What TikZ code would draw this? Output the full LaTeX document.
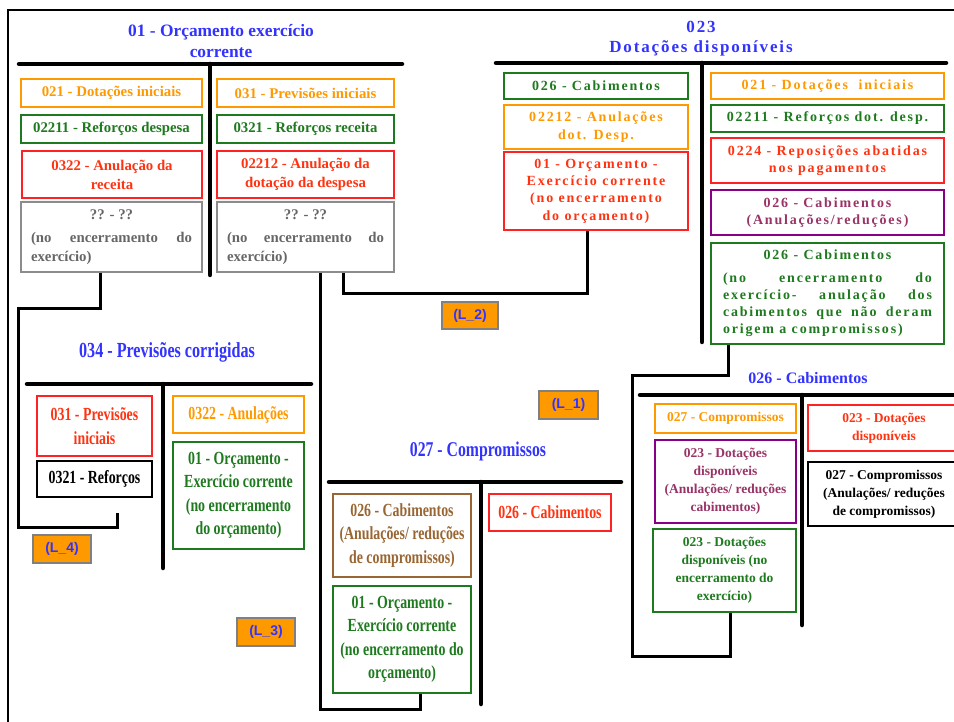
\documentclass[tikz,border=0pt]{standalone}
\usepackage{fontspec}
\setmainfont{Liberation Serif}
\newfontfamily\spaced[LetterSpace=13]{Liberation Serif}
\newfontfamily\spacedhead[LetterSpace=11]{Liberation Serif}
\newfontfamily\narrow[FakeStretch=0.75]{Liberation Serif}
\newfontfamily\lblfont{Liberation Sans}

\definecolor{cBlue}{HTML}{3333FF}
\definecolor{cOrange}{HTML}{FF9900}
\definecolor{cGreen}{HTML}{1E7A1E}
\definecolor{cRed}{HTML}{FF3311}
\definecolor{cRedEdge}{HTML}{FF2222}
\definecolor{cPurple}{HTML}{993366}
\definecolor{cPurpleEdge}{HTML}{880088}
\definecolor{cGray}{HTML}{666666}
\definecolor{cGrayEdge}{HTML}{8C8C8C}
\definecolor{cBrown}{HTML}{996633}
\definecolor{cTagEdge}{HTML}{808080}

\hyphenpenalty=10000
\exhyphenpenalty=10000

% box from its corners (x1,y1)-(x2,y2)
\newcommand\boxnode[7]{%
  \node[#2, minimum width={#5-#3}, minimum height={#6-#4}] (#1)
    at ({(#3+#5)/2},{(#4+#6)/2}) {#7};}

\begin{document}
\begin{tikzpicture}[x=1pt,y=-1pt,
  cell/.style={draw, line width=1.3pt, inner sep=0pt, align=center},
  fontA/.style={font=\bfseries\fontsize{14.8}{19}\selectfont},
  fontB/.style={font=\spaced\bfseries\fontsize{14}{17.3}\selectfont},
  fontC/.style={font=\narrow\bfseries\fontsize{18.5}{23.5}\selectfont},
  fontD/.style={font=\bfseries\fontsize{13.5}{18}\selectfont},
  orangecell/.style={cell, draw=cOrange, text=cOrange},
  greencell/.style={cell, draw=cGreen, text=cGreen},
  redcell/.style={cell, draw=cRedEdge, text=cRed},
  purplecell/.style={cell, draw=cPurpleEdge, text=cPurple},
  graycell/.style={cell, draw=cGrayEdge, text=cGray},
  browncell/.style={cell, draw=cBrown, text=cBrown},
  blackcell/.style={cell, draw=black, text=black},
  heading/.style={text=cBlue, align=center, inner sep=0pt},
  tbar/.style={line width=4.5pt, line cap=round},
  conn/.style={line width=3pt},
  labeltag/.style={draw=cTagEdge, fill=cOrange, line width=2.5pt, inner sep=0pt,
    text=cBlue, font=\lblfont\bfseries\fontsize{14}{16}\selectfont}
]
\useasboundingbox (0,0) rectangle (954,722);
\clip (0,0) rectangle (954,722);

% outer frame
\draw[line width=2pt] (8,730) -- (8,10) -- (960,10);

% ---------- 01 - Orçamento exercício corrente ----------
\node[heading, font=\bfseries\fontsize{17.4}{21}\selectfont] (h1) at (221,41)
  {01 - Orçamento exercício\\corrente};
\draw[tbar] (19,64) -- (402,64);
\draw[tbar] (210,64) -- (210,275);

\boxnode{tl1}{orangecell,fontA}{21}{79}{202}{107}{021 - Dotações iniciais}
\boxnode{tl2}{greencell,fontA}{21}{115}{202}{143}{02211 - Reforços despesa}
\boxnode{tl3}{redcell,fontA}{22}{151}{202}{198}{0322 - Anulação da\\receita}
\boxnode{tl4}{graycell,fontA,text width=161pt,align=justify}{21}{202}{202}{272}
  {{\centering ?? - ??\par}\vspace{4pt}(no encerramento do\linebreak exercício)}

\boxnode{tr1}{orangecell,fontA}{217}{79}{394}{107}{031 - Previsões iniciais}
\boxnode{tr2}{greencell,fontA}{217}{115}{394}{143}{0321 - Reforços receita}
\boxnode{tr3}{redcell,fontA}{217}{151}{394}{198}{02212 - Anulação da\\dotação da despesa}
\boxnode{tr4}{graycell,fontA,text width=157pt,align=justify}{217}{202}{394}{272}
  {{\centering ?? - ??\par}\vspace{4pt}(no encerramento do\linebreak exercício)}

% ---------- 023 Dotações disponíveis ----------
\node[heading, font=\spacedhead\bfseries\fontsize{17}{20}\selectfont] (h2) at (701,39)
  {023\\Dotações disponíveis};
\draw[tbar] (496,63) -- (946,63);
\draw[tbar] (702,63) -- (702,342);

\boxnode{a1}{greencell,fontB}{504}{73}{688}{99}{026 - Cabimentos}
\boxnode{a2}{orangecell,fontB}{504}{105}{688}{149}{02212 - Anulações\\dot. Desp.}
\boxnode{a3}{redcell,fontB}{504}{152}{688}{230}
  {01 - Orçamento -\\Exercício corrente\\(no encerramento\\do orçamento)}

\boxnode{b1}{orangecell,fontB}{711}{73}{944}{99}{021 - Dotações \ iniciais}
\boxnode{b2}{greencell,fontB}{711}{105}{944}{132}{02211 - Reforços dot. desp.}
\boxnode{b3}{redcell,fontB}{711}{138}{944}{183}{0224 - Reposições abatidas\\nos pagamentos}
\boxnode{b4}{purplecell,fontB}{711}{190}{944}{235}{026 - Cabimentos\\(Anulações/reduções)}
\boxnode{b5}{greencell,fontB,text width=209pt,align=justify}{711}{243}{944}{344}
  {{\centering 026 - Cabimentos\par}\vspace{5pt}(no encerramento do\linebreak
   exercício- anulação dos\linebreak cabimentos que não deram\linebreak
   origem a compromissos)}

% ---------- 034 - Previsões corrigidas ----------
\node[heading, font=\narrow\bfseries\fontsize{21.5}{24}\selectfont] (h3) at (167,352)
  {034 - Previsões corrigidas};
\draw[tbar] (27,384) -- (311,384);
\draw[tbar] (163,384) -- (163,568);

\boxnode{c1}{redcell,fontC}{37}{396}{152}{456}{031 - Previsões\\iniciais}
\boxnode{c2}{blackcell,fontC}{37}{461}{152}{497}{0321 - Reforços}
\boxnode{d1}{orangecell,fontC}{173}{396}{304}{433}{0322 - Anulações}
\boxnode{d2}{greencell,fontC}{173}{442}{304}{549}
  {01 - Orçamento -\\Exercício corrente\\(no encerramento\\do orçamento)}

% ---------- 027 - Compromissos ----------
\node[heading, font=\narrow\bfseries\fontsize{21}{24}\selectfont] (h4) at (478,451)
  {027 - Compromissos};
\draw[tbar] (329,482) -- (621,482);
\draw[tbar] (481,482) -- (481,704);

\boxnode{e1}{browncell,fontC}{333}{494}{471}{577}
  {026 - Cabimentos\\(Anulações/ reduções\\de compromissos)}
\boxnode{e2}{greencell,fontC}{333}{586}{471}{693}
  {01 - Orçamento -\\Exercício corrente\\(no encerramento do\\orçamento)}
\boxnode{f1}{redcell,fontC}{489}{494}{611}{531}{026 - Cabimentos}

% ---------- 026 - Cabimentos ----------
\node[heading, font=\bfseries\fontsize{16}{19}\selectfont] (h5) at (808,378)
  {026 - Cabimentos};
\draw[tbar] (640,395) -- (962,395);
\draw[tbar] (802,395) -- (802,625);

\boxnode{g1}{orangecell,fontD}{655}{404}{796}{433}{027 - Compromissos}
\boxnode{g2}{purplecell,fontD}{655}{440}{796}{523}
  {023 - Dotações\\disponíveis\\(Anulações/ reduções\\cabimentos)}
\boxnode{g3}{greencell,fontD}{653}{529}{796}{612}
  {023 - Dotações\\disponíveis (no\\encerramento do\\exercício)}
\boxnode{k1}{redcell,fontD}{808}{405}{960}{451}{023 - Dotações\\disponíveis}
\boxnode{k2}{blackcell,fontD}{808}{462}{960}{526}
  {027 - Compromissos\\(Anulações/ reduções\\de compromissos)}

% ---------- link tags ----------
\boxnode{L1}{labeltag}{539}{391}{598}{419}{(L\_1)}
\boxnode{L2}{labeltag}{442}{302}{498}{329}{(L\_2)}
\boxnode{L3}{labeltag}{237}{618}{295}{646}{(L\_3)}
\boxnode{L4}{labeltag}{33}{535}{91}{563}{(L\_4)}

% ---------- links ----------
\coordinate (p4a) at (18,309);
\coordinate (p4b) at (117,527);
\coordinate (p4c) at (117,513);
\draw[conn] ([xshift=80pt]tl4.south west) |- (p4a) |- (p4b) -- (p4c);

\coordinate (p3a) at (420,709);
\draw[conn] ([xshift=104pt]tr4.south west) |- (p3a) -- (p3a |- e2.south);

\coordinate (p2a) at (587,294);
\draw[conn] ([xshift=127pt]tr4.south west) |- (p2a) -- (p2a |- a3.south);

\coordinate (p1a) at (632,375);
\coordinate (p1b) at (730,656);
\draw[conn] ([xshift=18pt]b5.south west) |- (p1a) |- (p1b) -- (p1b |- g3.south);
\end{tikzpicture}
\end{document}
